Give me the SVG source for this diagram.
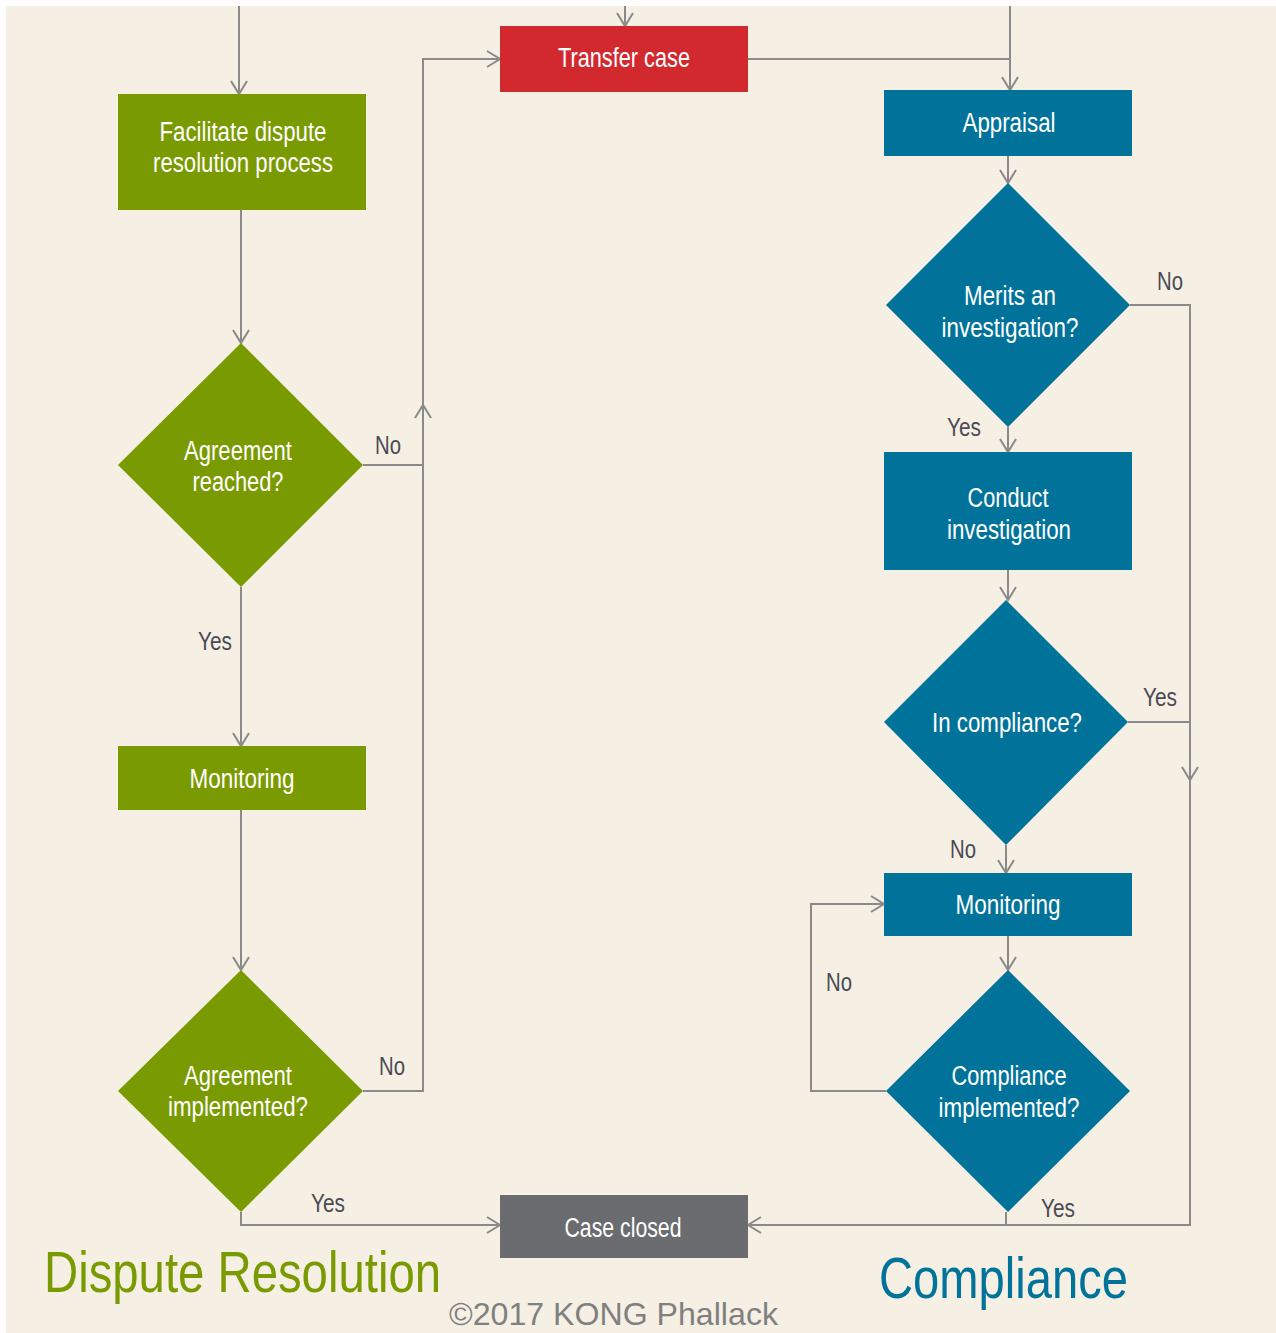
<svg xmlns="http://www.w3.org/2000/svg" width="1276" height="1333" viewBox="0 0 1276 1333">
<defs>
<style>
.bg{fill:#F5F0E3}
.g{fill:#7A9A01}
.b{fill:#01739A}
.r{fill:#D2292F}
.k{fill:#6B6C6F}
.t{font-family:"Liberation Sans",Arial,sans-serif;font-size:27px;fill:#FFFFFF;text-anchor:middle}
.l{font-family:"Liberation Sans",Arial,sans-serif;font-size:25px;fill:#4B4B55;text-anchor:middle}
.c{fill:none;stroke:#8A8A8A;stroke-width:2}
.h{font-family:"Liberation Sans",Arial,sans-serif;font-size:57px}
</style>
<marker id="a" markerUnits="userSpaceOnUse" markerWidth="30" markerHeight="30" refX="15" refY="15" orient="auto" overflow="visible">
<path d="M2,7 L15,15 L2,23" fill="none" stroke="#8A8A8A" stroke-width="2"/>
</marker>
</defs>
<rect width="1276" height="1333" fill="#FFFFFF"/>
<rect class="bg" x="6" y="6" width="1270" height="1327"/>

<g id="connectors">
<path class="c" d="M239,6 V94" marker-end="url(#a)"/>
<path class="c" d="M625,6 V26" marker-end="url(#a)"/>
<path class="c" d="M1010,6 V90" marker-end="url(#a)"/>
<path class="c" d="M748,59 H1010"/>
<path class="c" d="M241,210 V343" marker-end="url(#a)"/>
<path class="c" d="M363,465 H423"/>
<path class="c" d="M363,1091 H423 V405" marker-end="url(#a)"/>
<path class="c" d="M423,405 V59 H500" marker-end="url(#a)"/>
<path class="c" d="M241,587 V746" marker-end="url(#a)"/>
<path class="c" d="M241,810 V970" marker-end="url(#a)"/>
<path class="c" d="M241,1212 V1225 H500" marker-end="url(#a)"/>
<path class="c" d="M1008,156 V183" marker-end="url(#a)"/>
<path class="c" d="M1130,305 H1190 V780" marker-end="url(#a)"/>
<path class="c" d="M1190,780 V1225 H748" marker-end="url(#a)"/>
<path class="c" d="M1128,722 H1190"/>
<path class="c" d="M1008,427 V452" marker-end="url(#a)"/>
<path class="c" d="M1008,570 V600" marker-end="url(#a)"/>
<path class="c" d="M1006,845 V873" marker-end="url(#a)"/>
<path class="c" d="M1008,936 V970" marker-end="url(#a)"/>
<path class="c" d="M886,1091 H811 V904 H884" marker-end="url(#a)"/>
<path class="c" d="M1006,1212 V1225"/>
</g>

<g id="transfer-case"><rect class="r" x="500" y="26" width="248" height="66"/><text class="t" x="624" y="67" textLength="132" lengthAdjust="spacingAndGlyphs">Transfer case</text></g>
<g id="facilitate"><rect class="g" x="118" y="94" width="248" height="116"/><text class="t" x="243" y="141" textLength="167" lengthAdjust="spacingAndGlyphs">Facilitate dispute</text><text class="t" x="243" y="172" textLength="180" lengthAdjust="spacingAndGlyphs">resolution process</text></g>
<g id="agreement-reached"><polygon class="g" points="241,343 363,465 241,587 118,465"/><text class="t" x="238" y="460" textLength="108" lengthAdjust="spacingAndGlyphs">Agreement</text><text class="t" x="238" y="491" textLength="91" lengthAdjust="spacingAndGlyphs">reached?</text></g>
<g id="monitoring-dr"><rect class="g" x="118" y="746" width="248" height="64"/><text class="t" x="242" y="788" textLength="105" lengthAdjust="spacingAndGlyphs">Monitoring</text></g>
<g id="agreement-implemented"><polygon class="g" points="241,970 363,1091 241,1212 118,1091"/><text class="t" x="238" y="1085" textLength="108" lengthAdjust="spacingAndGlyphs">Agreement</text><text class="t" x="238" y="1116" textLength="140" lengthAdjust="spacingAndGlyphs">implemented?</text></g>
<g id="case-closed"><rect class="k" x="500" y="1195" width="248" height="63"/><text class="t" x="623" y="1237" textLength="117" lengthAdjust="spacingAndGlyphs">Case closed</text></g>
<g id="appraisal"><rect class="b" x="884" y="90" width="248" height="66"/><text class="t" x="1009" y="132" textLength="93" lengthAdjust="spacingAndGlyphs">Appraisal</text></g>
<g id="merits"><polygon class="b" points="1008,183 1130,305 1008,427 886,305"/><text class="t" x="1010" y="305" textLength="92" lengthAdjust="spacingAndGlyphs">Merits an</text><text class="t" x="1010" y="337" textLength="137" lengthAdjust="spacingAndGlyphs">investigation?</text></g>
<g id="conduct"><rect class="b" x="884" y="452" width="248" height="118"/><text class="t" x="1008" y="507" textLength="81" lengthAdjust="spacingAndGlyphs">Conduct</text><text class="t" x="1009" y="539" textLength="124" lengthAdjust="spacingAndGlyphs">investigation</text></g>
<g id="in-compliance"><polygon class="b" points="1006,600 1128,722 1006,845 884,722"/><text class="t" x="1007" y="732" textLength="150" lengthAdjust="spacingAndGlyphs">In compliance?</text></g>
<g id="monitoring-c"><rect class="b" x="884" y="873" width="248" height="63"/><text class="t" x="1008" y="914" textLength="105" lengthAdjust="spacingAndGlyphs">Monitoring</text></g>
<g id="compliance-implemented"><polygon class="b" points="1008,970 1130,1091 1008,1212 886,1091"/><text class="t" x="1009" y="1085" textLength="115" lengthAdjust="spacingAndGlyphs">Compliance</text><text class="t" x="1009" y="1117" textLength="141" lengthAdjust="spacingAndGlyphs">implemented?</text></g>

<g id="labels">
<text class="l" x="388" y="454" textLength="26" lengthAdjust="spacingAndGlyphs">No</text>
<text class="l" x="215" y="650" textLength="34" lengthAdjust="spacingAndGlyphs">Yes</text>
<text class="l" x="392" y="1075" textLength="26" lengthAdjust="spacingAndGlyphs">No</text>
<text class="l" x="328" y="1212" textLength="34" lengthAdjust="spacingAndGlyphs">Yes</text>
<text class="l" x="1170" y="290" textLength="26" lengthAdjust="spacingAndGlyphs">No</text>
<text class="l" x="964" y="436" textLength="34" lengthAdjust="spacingAndGlyphs">Yes</text>
<text class="l" x="1160" y="706" textLength="34" lengthAdjust="spacingAndGlyphs">Yes</text>
<text class="l" x="963" y="858" textLength="26" lengthAdjust="spacingAndGlyphs">No</text>
<text class="l" x="839" y="991" textLength="26" lengthAdjust="spacingAndGlyphs">No</text>
<text class="l" x="1058" y="1217" textLength="34" lengthAdjust="spacingAndGlyphs">Yes</text>
</g>

<text class="h" x="44" y="1292" fill="#7A9A01" textLength="397" lengthAdjust="spacingAndGlyphs">Dispute Resolution</text>
<text class="h" x="879" y="1298" fill="#01739A" textLength="249" lengthAdjust="spacingAndGlyphs">Compliance</text>
<text x="449" y="1325" font-family="Liberation Sans,Arial,sans-serif" font-size="32" fill="#808080" textLength="329" lengthAdjust="spacingAndGlyphs">©2017 KONG Phallack</text>
</svg>
